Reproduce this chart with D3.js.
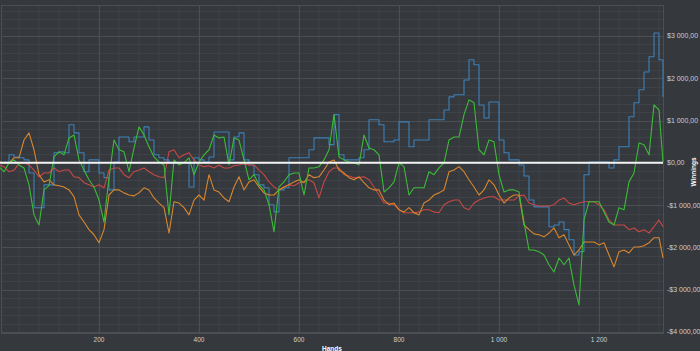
<!DOCTYPE html>
<html>
<head>
<meta charset="utf-8">
<script src="https://cdn.jsdelivr.net/npm/d3@7"></script>
<style>
body{margin:0;background:#35383c;}
svg{display:block;}
</style>
</head>
<body>
<div id="chart"></div>
<script>
// hands axis (one sample every 10 hands, last one at the end of session)
let hands = d3.range(0, 1321, 10).concat([1328]);

let blue = [0,20,190,140,120,70,-240,-1060,-1060,-520,
  -520,240,260,240,900,710,240,-210,70,70,
  -240,-350,-640,20,610,610,500,610,610,850,
  540,190,120,70,0,0,0,0,-570,120,
  70,20,140,730,730,730,70,610,710,70,
  -50,-280,-520,-590,-990,-1160,-640,-590,120,120,
  120,120,310,590,590,590,430,1140,190,70,
  70,70,120,310,1020,1020,900,500,500,540,
  970,970,380,540,540,540,1020,1020,1020,1250,
  1560,1610,1610,1960,2440,2320,1370,1060,1440,1440,
  540,240,70,70,-50,-310,-880,-1040,-1040,-1040,
  -1510,-1470,-1400,-1580,-1820,-2180,-2100,-280,20,20,
  20,20,-120,70,380,380,1090,1420,1730,2150,
  2510,3070,2440,1560];

let green = [-90,-210,0,70,-50,-120,-520,-1230,-1470,-640,
  -540,140,260,190,590,660,70,-170,-400,-570,
  -880,-1400,-350,540,310,260,-210,350,850,660,
  380,140,20,-50,-1230,70,-50,0,120,-280,
  20,190,310,660,590,610,-50,590,540,70,
  -400,-280,-520,-640,-990,-1630,-570,-450,-280,-240,
  -240,-760,-120,-120,-90,70,310,1140,140,70,
  20,0,-50,660,350,310,190,-690,-590,-450,
  0,-90,-760,-590,-590,-590,-210,-280,-120,0,
  540,610,610,1140,1490,1420,310,190,540,500,
  -280,-690,-640,-640,-690,-1400,-2060,-2060,-2100,-2180,
  -2410,-2580,-2250,-2410,-2250,-2890,-3360,-1350,-920,-920,
  -920,-1160,-1400,-1470,-1060,-1110,-450,-240,470,430,
  190,1370,1250,20];

let orange = [20,0,0,120,120,540,710,310,-280,-450,
  -400,-520,-540,-570,-640,-800,-1230,-1400,-1580,-1700,
  -1890,-1580,-760,-640,-640,-710,-760,-780,-710,-590,
  -640,-830,-950,-1060,-1660,-920,-950,-1060,-1230,-880,
  -760,-880,-280,-640,-690,-830,-920,-570,-330,-640,
  -450,-400,-570,-710,-760,-760,-640,-570,-520,-450,
  -400,-470,-280,-350,-330,-170,20,70,-170,-240,
  -350,-400,-330,-470,-590,-640,-640,-880,-990,-950,
  -1110,-1160,-1060,-1180,-1230,-950,-880,-760,-710,-640,
  -210,-170,-90,-210,-400,-570,-760,-640,-400,-520,
  -760,-950,-830,-760,-760,-1470,-1580,-1680,-1700,-1750,
  -1660,-1540,-1770,-1700,-1940,-2180,-2060,-1870,-1870,-1870,
  -1940,-1890,-2180,-2460,-2100,-2060,-2130,-1990,-1990,-1960,
  -1890,-1770,-1770,-2250];

let red = [-50,-90,-210,-170,-20,0,-50,-170,-330,-240,
  -240,-120,-210,-170,-170,-330,-350,-470,-520,-570,
  -520,-590,-170,-120,-120,-280,-350,-210,-170,-120,
  -210,-280,-330,-350,260,310,120,190,240,70,
  -50,-90,-70,-120,-50,-120,-120,-70,-50,-20,
  -50,-50,-170,-280,-450,-570,-640,-570,-520,-540,
  -470,-450,-400,-470,-830,-450,-210,-120,-120,-280,
  -310,-350,-350,-330,-400,-570,-760,-950,-950,-990,
  -1110,-1180,-1180,-1180,-1160,-1110,-1110,-1160,-1180,-990,
  -920,-880,-880,-1060,-1110,-950,-880,-830,-800,-800,
  -880,-880,-880,-880,-780,-760,-950,-990,-1020,-1020,
  -1020,-990,-880,-830,-950,-990,-950,-920,-920,-920,
  -990,-1110,-1350,-1470,-1470,-1470,-1580,-1540,-1630,-1580,
  -1660,-1510,-1350,-1510];

let yTicks = [-4000,-3000,-2000,-1000,0,1000,2000,3000];
let xTicks = [200,400,600,800,1000,1200];

let svgWidth = 700;
let svgHeight = 351;
let plot = {left:1, right:663, top:5, bottom:333};

let svg = d3.select('#chart')
  .append('svg')
    .attr('width', svgWidth)
    .attr('height', svgHeight);

svg.append('rect')
  .attr('width', svgWidth)
  .attr('height', svgHeight)
  .attr('fill', '#35383c');

let x = d3.scaleLinear().domain([0, 1328]).range([-1, 663]);
let y = d3.scaleLinear().domain([-4000, 3000]).range([332, 36]);

let loc = d3.formatLocale({decimal:',', thousands:' ', grouping:[3], currency:['$',''], minus:'-'});
let money = loc.format('$,.2f');
let num = loc.format(',d');

// minor grid
let grid = svg.append('g');
grid.selectAll('.vminor')
  .data(d3.range(40, 1321, 40))
  .join('line')
    .attr('x1', d => x(d)).attr('x2', d => x(d))
    .attr('y1', plot.top).attr('y2', plot.bottom)
    .attr('stroke', '#3e4146').attr('stroke-width', 1);
grid.selectAll('.hminor')
  .data(d3.range(-3800, 3700, 200))
  .join('line')
    .attr('y1', d => Math.round(y(d)) + 0.5).attr('y2', d => Math.round(y(d)) + 0.5)
    .attr('x1', plot.left).attr('x2', plot.right)
    .attr('stroke', '#3e4146').attr('stroke-width', 1);

// major grid
let major = svg.append('g');
major.selectAll('.vmajor')
  .data(xTicks)
  .join('line')
    .attr('x1', d => x(d) + 0.5).attr('x2', d => x(d) + 0.5)
    .attr('y1', plot.top).attr('y2', plot.bottom)
    .attr('stroke', '#4b4e53').attr('stroke-width', 1);
major.selectAll('.hmajor')
  .data(yTicks)
  .join('line')
    .attr('y1', d => Math.round(y(d)) + 0.5).attr('y2', d => Math.round(y(d)) + 0.5)
    .attr('x1', plot.left).attr('x2', plot.right)
    .attr('stroke', '#4b4e53').attr('stroke-width', 1);

svg.append('rect')
  .attr('x', plot.left + 0.5).attr('y', plot.top + 0.5)
  .attr('width', plot.right - plot.left).attr('height', plot.bottom - plot.top)
  .attr('fill', 'none').attr('stroke', '#4b4e53');

// series
let series = [
  {name:'blue', values:blue, color:'#3d80b8', curve:d3.curveStepAfter},
  {name:'red', values:red, color:'#c84846', curve:d3.curveLinear},
  {name:'orange', values:orange, color:'#d9862e', curve:d3.curveLinear},
  {name:'green', values:green, color:'#3cbb39', curve:d3.curveLinear}
];

let line = d3.line();
svg.append('g')
  .selectAll('path')
  .data(series)
  .join('path')
    .attr('fill', 'none')
    .attr('stroke', d => d.color)
    .attr('stroke-width', 1.1)
    .attr('stroke-linejoin', 'round')
    .attr('d', d => line.curve(d.curve).x((v, i) => x(hands[i])).y(v => y(v))(d.values));

// zero line
svg.append('line')
  .attr('x1', 0).attr('x2', plot.right)
  .attr('y1', y(0)).attr('y2', y(0))
  .attr('stroke', '#f2f2f2').attr('stroke-width', 2);

// y axis labels (right)
svg.append('g')
  .selectAll('text')
  .data(yTicks)
  .join('text')
    .attr('x', 667)
    .attr('y', d => y(d))
    .attr('dy', '0.35em')
    .attr('font-family', 'Liberation Sans, Arial, sans-serif')
    .attr('font-size', 7)
    .attr('fill', '#cfcfcf')
    .text(d => money(d));

// x axis labels
svg.append('g')
  .selectAll('text')
  .data(xTicks)
  .join('text')
    .attr('x', d => x(d))
    .attr('y', 340)
    .attr('dy', '0.35em')
    .attr('text-anchor', 'middle')
    .attr('font-family', 'Liberation Sans, Arial, sans-serif')
    .attr('font-size', 6.5)
    .attr('fill', '#cfcfcf')
    .text(d => num(d));

svg.append('text')
  .attr('x', 332).attr('y', 349)
  .attr('dy', '0.35em')
  .attr('text-anchor', 'middle')
  .attr('font-family', 'Liberation Sans, Arial, sans-serif')
  .attr('font-size', 6.5)
  .attr('font-weight', 'bold')
  .attr('fill', '#ffffff')
  .text('Hands');

svg.append('text')
  .attr('transform', 'translate(694,172) rotate(-90)')
  .attr('dy', '0.35em')
  .attr('text-anchor', 'middle')
  .attr('font-family', 'Liberation Sans, Arial, sans-serif')
  .attr('font-size', 6.5)
  .attr('font-weight', 'bold')
  .attr('fill', '#ffffff')
  .text('Winnings');
</script>
</body>
</html>
